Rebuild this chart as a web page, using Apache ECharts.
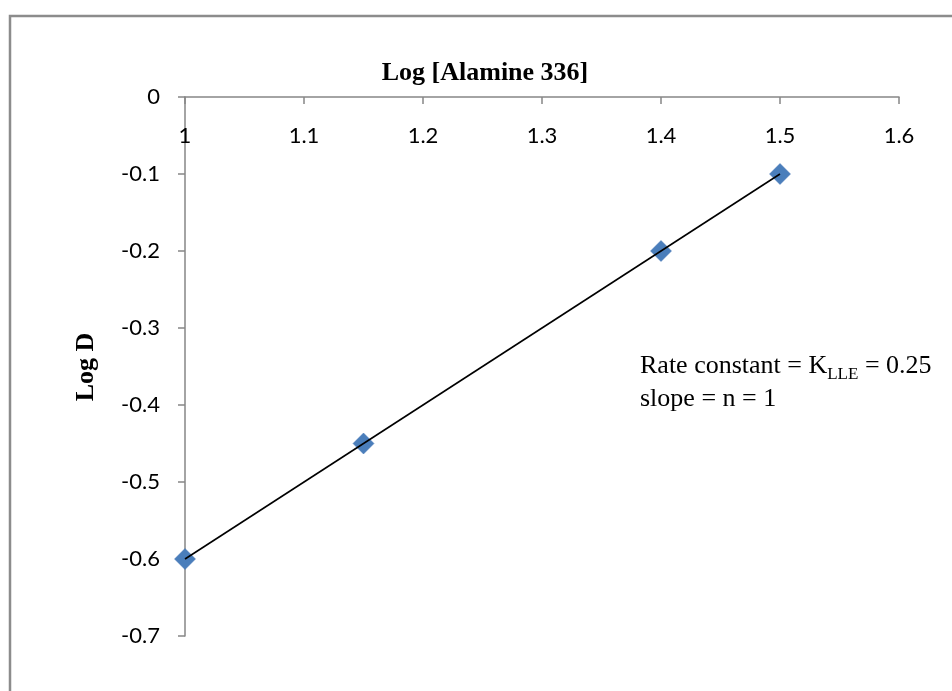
<!DOCTYPE html>
<html>
<head>
<meta charset="utf-8">
<script src="https://cdn.jsdelivr.net/npm/echarts@6/dist/echarts.min.js"></script>
<style>
html,body{margin:0;padding:0;background:#fff;}
#chart{width:952px;height:691px;}
</style>
</head>
<body>
<div id="chart"></div>
<script>
// Data
const logAlamine = [1, 1.15, 1.4, 1.5];
const logD = [-0.6, -0.45, -0.2, -0.1];
const trendX = [1, 1.5];
const trendY = [-0.6, -0.1];
const xTickLabels = ['1', '1.1', '1.2', '1.3', '1.4', '1.5', '1.6'];
const yTickLabels = ['0', '-0.1', '-0.2', '-0.3', '-0.4', '-0.5', '-0.6', '-0.7'];
const xTitle = 'Log [Alamine 336]';
const yTitle = 'Log D';

function pickLabel(list, v) {
  for (const l of list) { if (Math.abs(parseFloat(l) - v) < 1e-6) return l; }
  return '';
}

const chart = echarts.init(document.getElementById('chart'), null, {renderer: 'canvas'});
const axisColor = '#868686';
const tickFont = 'Lato';
chart.setOption({
  animation: false,
  backgroundColor: '#ffffff',
  grid: {left: 185, top: 97, right: 53, bottom: 55, containLabel: false},
  xAxis: {
    type: 'value', position: 'top', min: 1, max: 1.6, interval: 0.1,
    axisLine: {show: true, onZero: false, lineStyle: {color: axisColor, width: 1.5}},
    axisTick: {show: true, inside: true, length: 7, lineStyle: {color: axisColor, width: 1.5}},
    axisLabel: {inside: true, margin: 28, color: '#000', fontFamily: tickFont, fontSize: 22,
      formatter: v => pickLabel(xTickLabels, v)},
    splitLine: {show: false}
  },
  yAxis: {
    type: 'value', min: -0.7, max: 0, interval: 0.1,
    axisLine: {show: true, onZero: false, lineStyle: {color: axisColor, width: 1.5}},
    axisTick: {show: true, inside: false, length: 7, lineStyle: {color: axisColor, width: 1.5}},
    axisLabel: {margin: 25, color: '#000', fontFamily: tickFont, fontSize: 22,
      formatter: v => pickLabel(yTickLabels, v)},
    splitLine: {show: false}
  },
  series: [
    {
      type: 'scatter', data: logAlamine.map((x, i) => [x, logD[i]]),
      symbol: 'diamond', symbolSize: [21, 21],
      itemStyle: {color: '#4A7EBB', borderColor: '#4477B5', borderWidth: 0.5, opacity: 1},
      z: 2
    },
    {
      type: 'line', data: trendX.map((x, i) => [x, trendY[i]]),
      showSymbol: false, symbol: 'none',
      lineStyle: {color: '#000', width: 1.6}, z: 3
    }
  ],
  graphic: [
    {type: 'rect', shape: {x: 10, y: 16, width: 960, height: 720},
     style: {fill: 'none', stroke: '#8C8C8C', lineWidth: 2.5}, silent: true},
    {type: 'text', x: 485, y: 73,
     style: {text: xTitle, font: 'bold 26px "Liberation Serif"', fill: '#000', textAlign: 'center', textVerticalAlign: 'middle'}},
    {type: 'text', x: 86, y: 367, rotation: Math.PI / 2,
     style: {text: yTitle, font: 'bold 26px "Liberation Serif"', fill: '#000', textAlign: 'center', textVerticalAlign: 'middle'}},
    {type: 'text', x: 640, y: 350,
     style: {
       text: 'Rate constant = K{sub|LLE} = 0.25\nslope = n = 1',
       fontFamily: 'Liberation Serif', fontSize: 26, fill: '#000', lineHeight: 33,
       rich: {sub: {fontFamily: 'Liberation Serif', fontSize: 17, verticalAlign: 'bottom', padding: [12, 0, 0, 0], lineHeight: 33}}
     }}
  ]
});
</script>
</body>
</html>
